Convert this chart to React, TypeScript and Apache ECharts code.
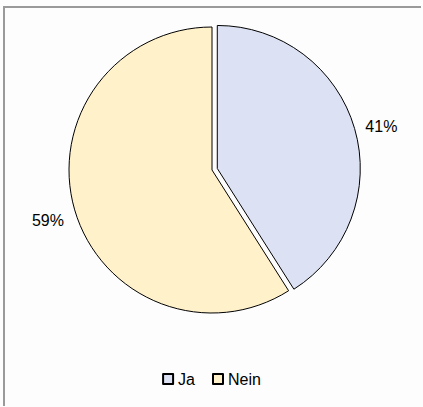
import React, { useEffect, useRef } from "react";
import * as echarts from "echarts";

const categories = ["Ja", "Nein"];
const values = [41, 59];
const colors = ["#dce2f3", "#fff1c9"];

export default function App() {
  const ref = useRef<HTMLDivElement>(null);
  useEffect(() => {
    document.body.style.margin = "0";
    const chart = echarts.init(ref.current!, null, { renderer: "svg" });
    chart.setOption({
      animation: false,
      backgroundColor: "#fdfdfd",
      graphic: [
        { type: "rect", left: 3, top: 6, shape: { width: 2, height: 400 }, style: { fill: "#9a9a9a" } },
        { type: "rect", left: 3, top: 6, shape: { width: 418, height: 2 }, style: { fill: "#9a9a9a" } },
      ],
      legend: {
        data: categories,
        top: 366,
        left: "center",
        icon: "rect",
        itemWidth: 10,
        itemHeight: 10,
        itemGap: 17,
        itemTextGap: 5,
        textStyle: { fontFamily: "Liberation Sans, Arial", fontSize: 16, color: "#000" },
      },
      series: [
        {
          type: "pie",
          center: [212, 170],
          radius: 143,
          startAngle: 90,
          selectedMode: "single",
          selectedOffset: 5.5,
          avoidLabelOverlap: false,
          itemStyle: { borderColor: "#000", borderWidth: 1 },
          emphasis: { disabled: true },
          label: {
            show: true,
            position: "outside",
            formatter: "{d}%",
            fontFamily: "Liberation Sans, Arial",
            fontSize: 16,
            color: "#000",
          },
          labelLine: { show: false, length: 6, length2: 0 },
          labelLayout: (p: any) => (p.dataIndex === 1 ? { dy: 9 } : { dy: 0 }),
          data: categories.map((c, i) => ({
            name: c,
            value: values[i],
            selected: i === 0,
            itemStyle: { color: colors[i] },
          })),
        },
      ],
    });
    return () => chart.dispose();
  }, []);
  return <div ref={ref} style={{ width: 423, height: 407 }} />;
}
